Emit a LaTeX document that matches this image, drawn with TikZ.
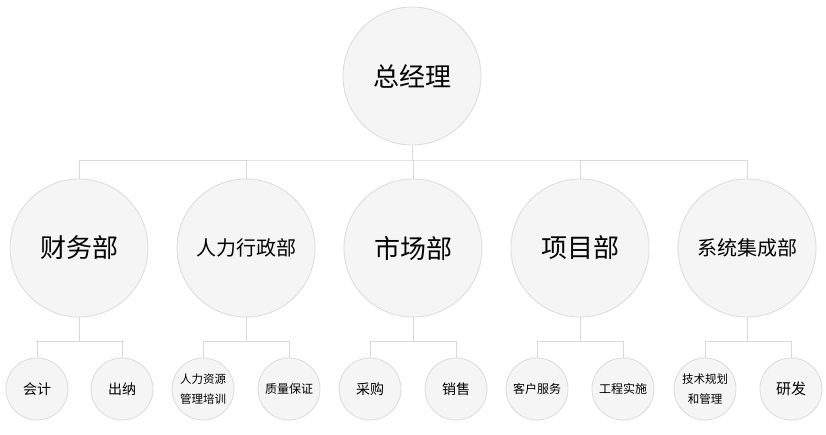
\documentclass[tikz,border=0pt]{standalone}
\usepackage{fontspec}
\setmainfont{Noto Sans CJK SC}
\usetikzlibrary{calc}
\begin{document}
\begin{tikzpicture}[x=1pt,y=-1pt,
  circfill/.style={circle,draw=black!14,fill=black!4,line width=0.8pt,inner sep=0pt,align=center},
  big/.style={circfill,minimum size=138pt},
  small/.style={circfill,minimum size=62pt},
  conn/.style={draw=black!15,line width=1pt}]
\useasboundingbox (0,0) rectangle (826,434);
\node[big,font=\fontsize{26}{30}\selectfont] (gm) at (412,76) {总经理};
\foreach \n/\x/\t/\s in {d1/79/财务部/26,d2/246/人力行政部/20,d3/413/市场部/26,d4/580/项目部/26,d5/747/系统集成部/20}{
  \node[big,font=\fontsize{\s}{\s}\selectfont] (\n) at (\x,248) {\t};
}
\node[small,font=\fontsize{14}{16}\selectfont] (c11) at (37,389) {会计};
\node[small,font=\fontsize{14}{16}\selectfont] (c12) at (122,389) {出纳};
\node[small,font=\fontsize{11.5}{20}\selectfont] (c21) at (203,389) {人力资源\\管理培训};
\node[small,font=\fontsize{12}{16}\selectfont] (c22) at (289,389) {质量保证};
\node[small,font=\fontsize{14}{16}\selectfont] (c31) at (370,389) {采购};
\node[small,font=\fontsize{14}{16}\selectfont] (c32) at (456,389) {销售};
\node[small,font=\fontsize{12}{16}\selectfont] (c41) at (537,389) {客户服务};
\node[small,font=\fontsize{12}{16}\selectfont] (c42) at (623,389) {工程实施};
\node[small,font=\fontsize{11.5}{20}\selectfont] (c51) at (705,389) {技术规划\\和管理};
\node[small,font=\fontsize{15}{16}\selectfont] (c52) at (791,389) {研发};
\coordinate (hub) at (412,160);
\draw[conn] (gm.south) -- (hub);
\draw[conn] (d1.north) |- (hub) -| (d5.north);
\foreach \n in {d2,d3,d4}{ \draw[conn] (\n.north) -- (\n.north |- hub); }
\foreach \p/\a/\b in {d1/c11/c12,d2/c21/c22,d3/c31/c32,d4/c41/c42,d5/c51/c52}{
  \coordinate (\p h) at ($(\p.south)+(0,24)$);
  \draw[conn] (\p.south) -- (\p h);
  \draw[conn] (\a.north) |- (\p h) -| (\b.north);
}
\end{tikzpicture}
\end{document}
